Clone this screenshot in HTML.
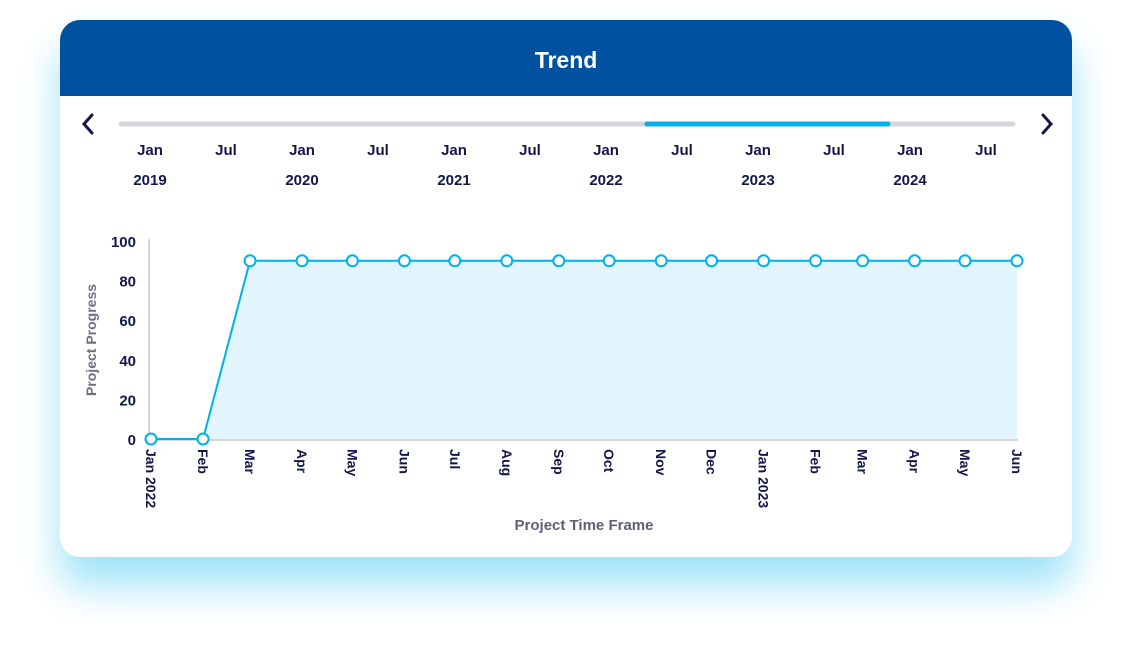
<!DOCTYPE html>
<html><head><meta charset="utf-8"><style>
body{margin:0;width:1132px;height:658px;background:#fff;font-family:"Liberation Sans",sans-serif;overflow:hidden}
.card{position:absolute;left:60px;top:20px;width:1012px;height:537px;background:#fff;border-radius:20px;box-shadow:0 28px 40px rgba(40,190,240,0.45);overflow:hidden}
.hdr{height:76px;background:#00519f;color:#fff;font-size:23px;font-weight:bold;text-align:center;line-height:80px}
svg{position:absolute;left:0;top:0}
</style></head><body>
<div class="card"><div class="hdr">Trend</div></div>
<svg id="s" width="1132" height="658"></svg>
<script>
const tlLabels=["Jan","Jul","Jan","Jul","Jan","Jul","Jan","Jul","Jan","Jul","Jan","Jul"];
const tlYears=["2019","","2020","","2021","","2022","","2023","","2024",""];
const dates=["2022-01-01","2022-02-01","2022-03-01","2022-04-01","2022-05-01","2022-06-01","2022-07-01","2022-08-01","2022-09-01","2022-10-01","2022-11-01","2022-12-01","2023-01-01","2023-02-01","2023-03-01","2023-04-01","2023-05-01","2023-06-01"];
const xLabels=["Jan 2022","Feb","Mar","Apr","May","Jun","Jul","Aug","Sep","Oct","Nov","Dec","Jan 2023","Feb","Mar","Apr","May","Jun"];
const values=[0,0,90,90,90,90,90,90,90,90,90,90,90,90,90,90,90,90];
const yTicks=[0,20,40,60,80,100];
const s=document.getElementById('s');const NS="http://www.w3.org/2000/svg";
function mk(t,a,txt){const e=document.createElementNS(NS,t);for(const k in a)e.setAttribute(k,a[k]);if(txt!=null)e.textContent=txt;s.appendChild(e);return e;}
const t0=Date.parse(dates[0]),t1=Date.parse(dates[dates.length-1]);
const X=d=>151+(Date.parse(d)-t0)/(t1-t0)*866;
const Y=v=>439-v*1.98;
const dark="#14174a";
// nav
let e=mk('path',{d:"M92 115 L84 124 L92 133",fill:"none",stroke:dark,"stroke-width":3,"stroke-linecap":"round"});

e=mk('path',{d:"M1043 115 L1051 124 L1043 133",fill:"none",stroke:dark,"stroke-width":3,"stroke-linecap":"round"});

e=mk('line',{x1:121,y1:124,x2:1013,y2:124,stroke:"#d5d6dc","stroke-width":5,"stroke-linecap":"round"});

e=mk('line',{x1:647,y1:124,x2:888,y2:124,stroke:"#00b0e8","stroke-width":5,"stroke-linecap":"round"});

tlLabels.forEach((l,i)=>{const x=150+i*76;
 e=mk('text',{x:x,y:155,"text-anchor":"middle","font-size":15,"font-weight":"bold",fill:dark},l);
 
 if(tlYears[i]){e=mk('text',{x:x,y:185,"text-anchor":"middle","font-size":15,"font-weight":"bold",fill:dark},tlYears[i]);
 }
});
// axes
e=mk('line',{x1:149,y1:239,x2:149,y2:440,stroke:"#d5d6dc","stroke-width":2});

e=mk('line',{x1:149,y1:440,x2:1018,y2:440,stroke:"#d5d6dc","stroke-width":2});

yTicks.forEach(v=>{e=mk('text',{x:136,y:Y(v)+6,"text-anchor":"end","font-size":15,"font-weight":"bold",fill:dark},v);
 });
e=mk('text',{transform:"translate(96,340) rotate(-90)","text-anchor":"middle","font-size":14,"font-weight":"bold",fill:"#6d6f80"},"Project Progress");

e=mk('text',{x:584,y:530,"text-anchor":"middle","font-size":15,"font-weight":"bold",fill:"#5f6173"},"Project Time Frame");

xLabels.forEach((l,i)=>{const x=X(dates[i]);
 e=mk('text',{transform:`translate(${x-5},449) rotate(90)`,"font-size":14,"font-weight":"bold",fill:dark},l);
 });
let pts=values.map((v,i)=>[X(dates[i]),Y(v)]);
e=mk('path',{d:"M"+pts.map(p=>p.join(" ")).join(" L")+` L${pts[pts.length-1][0]} ${Y(0)} L${pts[0][0]} ${Y(0)} Z`,fill:"#e3f5fc"});

e=mk('path',{d:"M"+pts.map(p=>p.join(" ")).join(" L"),fill:"none",stroke:"#00b0e8","stroke-width":2});

pts.forEach(p=>{e=mk('circle',{cx:p[0],cy:p[1],r:5.5,fill:"#fff",stroke:"#00b0e8","stroke-width":2});
 });
</script>
</body></html>
